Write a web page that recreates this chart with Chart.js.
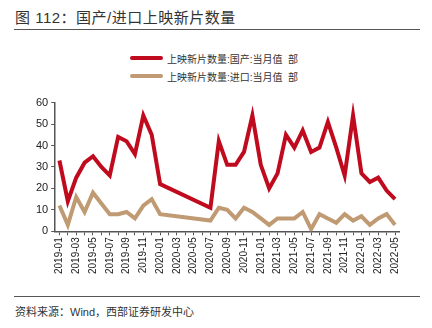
<!DOCTYPE html>
<html lang="zh">
<head>
<meta charset="UTF-8">
<title>国产/进口上映新片数量</title>
<script src="https://cdn.jsdelivr.net/npm/chart.js@4.4.1/dist/chart.umd.min.js"></script>
<style>
    body {
        margin: 0;
        width: 432px;
        height: 328px;
        background: #fff;
        font-family: "Liberation Sans", Arial, "Noto Sans CJK SC", sans-serif;
        position: relative;
        overflow: hidden;
    }
    .title {
        position: absolute;
        left: 15px;
        top: 6px;
        font-size: 15px;
        color: #333;
        letter-spacing: 0.5px;
    }
    .rule {
        position: absolute;
        left: 14px;
        width: 406px;
        height: 1px;
        background: #555;
    }
    .legend {
        position: absolute;
        left: 130px;
        font-size: 10px;
        color: #333;
    }
    .legend div {
        height: 18px;
        display: flex;
        align-items: center;
    }
    .legend span.swatch {
        display: inline-block;
        width: 33px;
        height: 4px;
        border-radius: 2px;
        margin-right: 4px;
    }
    .chart-box {
        position: absolute;
        left: 33px;
        top: 93px;
        width: 376px;
        height: 183px;
    }
    .source {
        position: absolute;
        left: 15px;
        top: 303px;
        font-size: 11px;
        color: #333;
    }
</style>
</head>
<body>
    <div class="title">图 112：国产/进口上映新片数量</div>
    <div class="rule" style="top:29px"></div>
    <div class="legend" style="top:49px">
        <div><span class="swatch" style="background:#C00A1E"></span>上映新片数量:国产:当月值&nbsp;&nbsp;部</div>
        <div><span class="swatch" style="background:#BF9A72"></span>上映新片数量:进口:当月值&nbsp;&nbsp;部</div>
    </div>
    <div class="chart-box"><canvas id="filmChart"></canvas></div>
    <div class="rule" style="top:296px"></div>
    <div class="source">资料来源：Wind，西部证券研发中心</div>

<script>
    // months 2019-01 .. 2022-05 (cinemas closed 2020-02 to 2020-06)
    const months = [
        '2019-01','2019-02','2019-03','2019-04','2019-05','2019-06','2019-07','2019-08','2019-09','2019-10','2019-11','2019-12',
        '2020-01','2020-02','2020-03','2020-04','2020-05','2020-06','2020-07','2020-08','2020-09','2020-10','2020-11','2020-12',
        '2021-01','2021-02','2021-03','2021-04','2021-05','2021-06','2021-07','2021-08','2021-09','2021-10','2021-11','2021-12',
        '2022-01','2022-02','2022-03','2022-04','2022-05'
    ];

    const domestic = [
        33, 14, 25, 32, 35, 30, 26, 44, 42, 36, 54, 45,
        22, null, null, null, null, null, 11, 42, 31, 31, 37, 54,
        31, 20, 27, 45, 39, 47, 37, 39, 51, 39, 26, 54,
        27, 23, 25, 19, 15
    ];

    const imported = [
        12, 3, 16, 9, 18, 13, 8, 8, 9, 6, 12, 15,
        8, null, null, null, null, null, 5, 11, 10, 6, 11, 9,
        6, 3, 6, 6, 6, 9, 1, 8, 6, 4, 8, 5,
        7, 3, 6, 8, 3
    ];

    const yTicks = [0, 10, 20, 30, 40, 50, 60];

    const ctx = document.getElementById('filmChart').getContext('2d');
    new Chart(ctx, {
        type: 'line',
        data: {
            labels: months,
            datasets: [
                {
                    label: '上映新片数量:国产:当月值 部',
                    data: domestic,
                    borderColor: '#C00A1E',
                    borderWidth: 4,
                    pointRadius: 0,
                    spanGaps: true,
                    tension: 0
                },
                {
                    label: '上映新片数量:进口:当月值 部',
                    data: imported,
                    borderColor: '#BF9A72',
                    borderWidth: 4,
                    pointRadius: 0,
                    spanGaps: true,
                    tension: 0
                }
            ]
        },
        options: {
            responsive: true,
            maintainAspectRatio: false,
            animation: false,
            layout: { padding: { top: 2, right: 0 } },
            plugins: {
                legend: { display: false },
                tooltip: { enabled: false }
            },
            scales: {
                x: {
                    offset: true,
                    grid: {
                        display: true,
                        drawOnChartArea: false,
                        drawTicks: true,
                        tickLength: 4,
                        color: '#555'
                    },
                    border: { color: '#555', width: 1.5 },
                    ticks: {
                        autoSkip: false,
                        minRotation: 90,
                        maxRotation: 90,
                        color: '#222',
                        padding: 2,
                        font: { family: '"Liberation Sans", Arial', size: 10 },
                        callback: function(value, index) {
                            return index % 2 === 0 ? months[index] : '';
                        }
                    }
                },
                y: {
                    min: 0,
                    max: 60,
                    afterBuildTicks: function(axis) {
                        axis.ticks = yTicks.map(v => ({ value: v }));
                    },
                    grid: {
                        display: true,
                        drawOnChartArea: false,
                        drawTicks: true,
                        tickLength: 4,
                        color: '#555'
                    },
                    border: { color: '#555', width: 1.5 },
                    ticks: {
                        color: '#222',
                        padding: 3,
                        font: { family: '"Liberation Sans", Arial', size: 11 }
                    }
                }
            }
        }
    });
</script>
</body>
</html>
